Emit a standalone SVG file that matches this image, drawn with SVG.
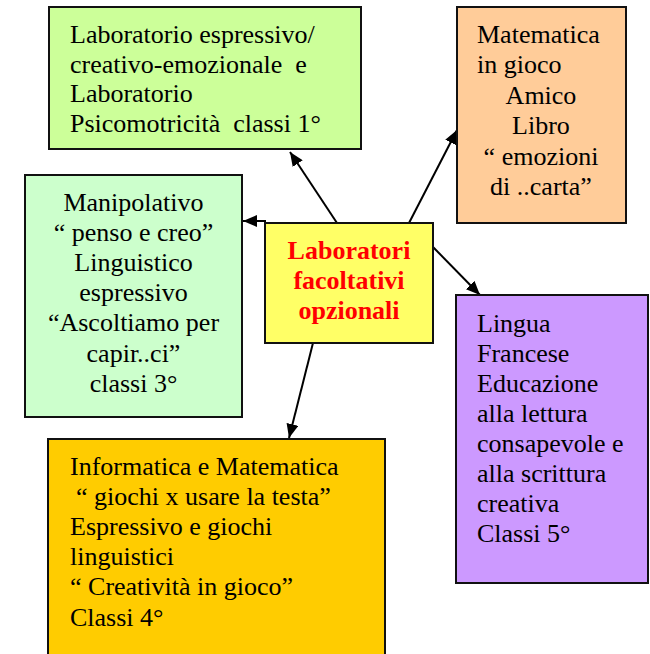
<svg xmlns="http://www.w3.org/2000/svg" width="650" height="654" viewBox="0 0 650 654">
<style>
.box{stroke:#111;stroke-width:2}
.t{font-family:"Liberation Serif","Times New Roman",serif;font-size:26px;fill:#000}
.c{text-anchor:middle}
.h{font-family:"Liberation Serif","Times New Roman",serif;font-size:26px;font-weight:bold;fill:#FF0000;text-anchor:middle}
.ln{stroke:#000;stroke-width:2;fill:none;marker-end:url(#ah)}
</style>
<defs>
<marker id="ah" markerUnits="userSpaceOnUse" markerWidth="14" markerHeight="12" refX="14" refY="6" orient="auto">
<path d="M0,0 L14,6 L0,12 z" fill="#000"/>
</marker>
</defs>
<rect width="650" height="654" fill="#fff"/>
<g id="connectors">
<line class="ln" x1="337" y1="223" x2="290" y2="152"/>
<line class="ln" x1="409" y1="223" x2="457" y2="130"/>
<line class="ln" x1="266" y1="221" x2="243" y2="221"/>
<line class="ln" x1="433" y1="247" x2="480" y2="295"/>
<line class="ln" x1="313" y1="343" x2="289" y2="438"/>
</g>
<g id="n1">
<rect class="box" x="49" y="7" width="312" height="142" fill="#CCFF99"/>
<text class="t" xml:space="preserve"><tspan x="70" y="43">Laboratorio espressivo/</tspan><tspan x="70" y="72.5">creativo-emozionale  e</tspan><tspan x="70" y="102">Laboratorio</tspan><tspan x="70" y="131.5">Psicomotricità  classi 1°</tspan></text>
</g>
<g id="n2">
<rect class="box" x="457" y="7" width="169" height="216" fill="#FFCC99"/>
<text class="t"><tspan x="477" y="43">Matematica</tspan><tspan x="477" y="73">in gioco</tspan></text>
<text class="t c"><tspan x="541" y="104">Amico</tspan><tspan x="541" y="134">Libro</tspan><tspan x="541" y="165">“ emozioni</tspan><tspan x="541" y="195">di ..carta”</tspan></text>
</g>
<g id="n3">
<rect class="box" x="25" y="175" width="217" height="242" fill="#CCFFCC"/>
<text class="t c"><tspan x="133.5" y="211">Manipolativo</tspan><tspan x="133.5" y="241">“ penso e creo”</tspan><tspan x="133.5" y="271">Linguistico</tspan><tspan x="133.5" y="301">espressivo</tspan><tspan x="133.5" y="331">“Ascoltiamo per</tspan><tspan x="133.5" y="362">capir..ci”</tspan><tspan x="133.5" y="392">classi 3°</tspan></text>
</g>
<g id="center">
<rect class="box" x="265" y="223" width="168" height="120" fill="#FFFF66"/>
<text class="h"><tspan x="349" y="259">Laboratori</tspan><tspan x="349" y="289">facoltativi</tspan><tspan x="349" y="319">opzionali</tspan></text>
</g>
<g id="n5">
<rect class="box" x="456" y="295" width="192" height="288" fill="#CC99FF"/>
<text class="t"><tspan x="477" y="332">Lingua</tspan><tspan x="477" y="362">Francese</tspan><tspan x="477" y="392">Educazione</tspan><tspan x="477" y="422">alla lettura</tspan><tspan x="477" y="452">consapevole e</tspan><tspan x="477" y="482">alla scrittura</tspan><tspan x="477" y="512">creativa</tspan><tspan x="477" y="542">Classi 5°</tspan></text>
</g>
<g id="n6">
<rect class="box" x="48" y="439" width="337" height="230" fill="#FFCC00"/>
<text class="t"><tspan x="70" y="475">Informatica e Matematica</tspan><tspan x="76" y="505">“ giochi x usare la testa”</tspan><tspan x="70" y="535">Espressivo e giochi</tspan><tspan x="70" y="565">linguistici</tspan><tspan x="70" y="595">“ Creatività in gioco”</tspan><tspan x="70" y="626">Classi 4°</tspan></text>
</g>
</svg>
